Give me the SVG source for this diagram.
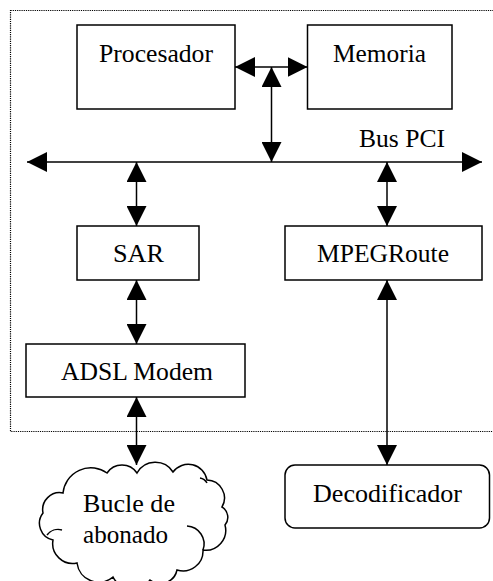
<svg xmlns="http://www.w3.org/2000/svg" width="493" height="581" viewBox="0 0 493 581">
<style>
.box{fill:#fff;stroke:#000;stroke-width:1.5}
.lbl{font-family:'Liberation Serif',serif;font-size:25px;fill:#000}
.conn{stroke:#000;stroke-width:1.5;fill:none;marker-start:url(#arr);marker-end:url(#arr)}
.frame{fill:none;stroke:#000;stroke-width:1.2;stroke-dasharray:1.2 1}
</style>
<defs>
<marker id="arr" markerUnits="userSpaceOnUse" markerWidth="20" markerHeight="20" refX="20" refY="10" orient="auto-start-reverse">
<path d="M0,0 L20,10 L0,20 z" fill="#000"/>
</marker>
</defs>
<rect width="493" height="581" fill="#fff"/>
<rect class="frame" x="10.5" y="10.5" width="500" height="421"/>
<g id="procesador">
<rect class="box" x="77" y="25" width="158" height="84"/>
<text class="lbl" font-family="Liberation Serif, serif" x="99" y="62" textLength="114" lengthAdjust="spacingAndGlyphs">Procesador</text>
</g>
<g id="memoria">
<rect class="box" x="307.5" y="25" width="144.5" height="84"/>
<text class="lbl" font-family="Liberation Serif, serif" x="333" y="62" textLength="93" lengthAdjust="spacingAndGlyphs">Memoria</text>
</g>
<g id="buspci">
<text class="lbl" font-family="Liberation Serif, serif" x="359" y="147" textLength="86" lengthAdjust="spacingAndGlyphs">Bus PCI</text>
</g>
<g id="sar">
<rect class="box" x="77" y="226" width="122" height="54"/>
<text class="lbl" font-family="Liberation Serif, serif" x="113" y="262" textLength="51" lengthAdjust="spacingAndGlyphs">SAR</text>
</g>
<g id="mpegroute">
<rect class="box" x="285" y="226" width="197" height="54"/>
<text class="lbl" font-family="Liberation Serif, serif" x="317" y="262" textLength="132" lengthAdjust="spacingAndGlyphs">MPEGRoute</text>
</g>
<g id="adsl">
<rect class="box" x="26" y="344" width="219" height="53"/>
<text class="lbl" font-family="Liberation Serif, serif" x="61" y="380" textLength="152" lengthAdjust="spacingAndGlyphs">ADSL Modem</text>
</g>
<g id="decodificador">
<rect class="box" x="285" y="465" width="204.5" height="63" rx="10" ry="10"/>
<text class="lbl" font-family="Liberation Serif, serif" x="313" y="502" textLength="149" lengthAdjust="spacingAndGlyphs">Decodificador</text>
</g>
<g id="bucle">
<path class="box" d="M63,493 A28,28 0 0 1 107,473 A18,18 0 0 1 137,473 A21,21 0 0 1 173,472 A19,19 0 0 1 207,480 A18,18 0 0 1 222,507 A12,12 0 0 1 225,525 A20,20 0 0 1 203,550 A20,20 0 0 1 177,570 A17,17 0 0 1 150,580 A22,22 0 0 1 113,577 A22,22 0 0 1 77,563 A20,20 0 0 1 53,540 A17,17 0 0 1 43,513 A17,17 0 0 1 63,493 Z"/>
<path d="M187,526 A18,18 0 0 1 203,550" fill="none" stroke="#000" stroke-width="1.5"/>
<path d="M47,535 A14,14 0 0 1 62,530" fill="none" stroke="#000" stroke-width="1.5"/>
<path d="M200,478 A10,10 0 0 1 207,483" fill="none" stroke="#000" stroke-width="1.5"/>
<text class="lbl" font-family="Liberation Serif, serif" x="83" y="512" textLength="92" lengthAdjust="spacingAndGlyphs">Bucle de</text>
<text class="lbl" font-family="Liberation Serif, serif" x="83" y="543" textLength="85" lengthAdjust="spacingAndGlyphs">abonado</text>
</g>
<g id="connectors">
<path class="conn" d="M235,67 H307.5"/>
<path class="conn" d="M271.5,67 V162"/>
<path class="conn" d="M27,162 H482"/>
<path class="conn" d="M136.5,162 V226"/>
<path class="conn" d="M136.5,280 V344"/>
<path class="conn" d="M136.5,397 V465"/>
<path class="conn" d="M387,162 V226"/>
<path class="conn" d="M387,280 V465"/>
</g>
</svg>
